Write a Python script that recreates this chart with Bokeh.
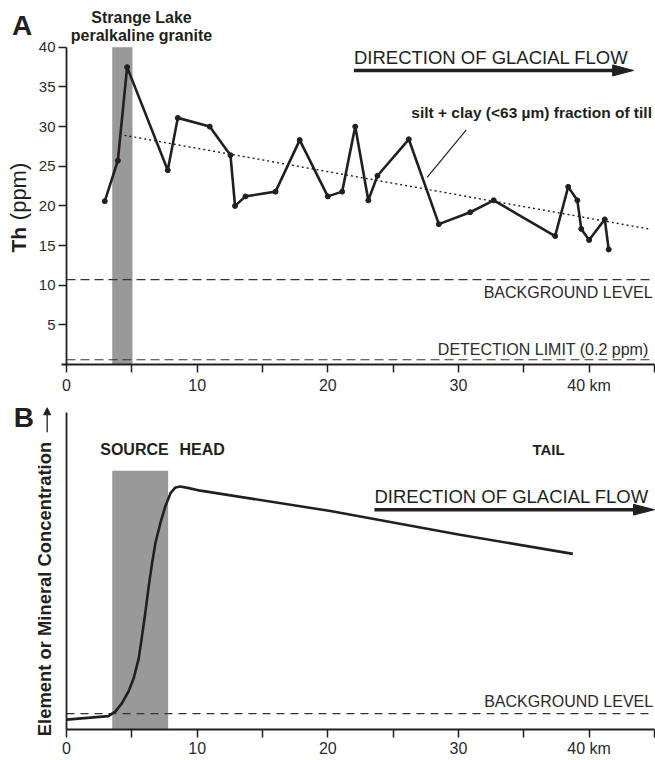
import numpy as np
from bokeh.plotting import figure
from bokeh.models import Label, Range1d, FixedTicker, Arrow, NormalHead, LinearAxis
from bokeh.layouts import column
from bokeh.embed import file_html
from bokeh.resources import INLINE

# ---------------- Panel A: Th in till (silt + clay fraction) ----------------
DIST_KM = [2.93, 3.93, 4.64, 7.75, 8.52, 10.96, 12.55, 12.9, 13.7, 16.0, 17.85,
           20.0, 21.1, 22.1, 23.1, 23.8, 26.2, 28.5, 30.9, 32.7, 37.4, 38.4,
           39.1, 39.4, 40.0, 41.2, 41.5]
TH_PPM = [20.6, 25.7, 37.5, 24.5, 31.1, 30.0, 26.4, 20.0, 21.2, 21.8, 28.3,
          21.2, 21.8, 30.0, 20.7, 23.8, 28.4, 17.7, 19.2, 20.7, 16.2, 22.4,
          20.7, 17.1, 15.7, 18.3, 14.5]
TREND_KM = [4.44, 44.55]
TREND_TH = [28.9, 17.1]
BACKGROUND_PPM = 10.7
DETECTION_LINE_PPM = 0.6
SOURCE_A_KM = [3.5, 5.05]
Y_TICKS_A = [5, 10, 15, 20, 25, 30, 35, 40]
X_MAJOR = [0, 10, 20, 30, 40]
X_MINOR = [5, 15, 25, 35, 45]
X_LABELS = {40: "40 km"}

# ---------------- Panel B: idealised dispersal train ----------------
PROFILE_KM = [0, 3.2, 3.75, 4.25, 4.76, 5.15, 5.53, 5.79, 6.04, 6.3, 6.56, 6.81,
              7.19, 7.57, 7.96, 8.34, 8.72, 9.36, 10.25, 20.2, 30.0, 38.76]
PROFILE_CONC = [3.2, 4.3, 5.8, 8.4, 12.2, 16.3, 22.5, 29.8, 37.1, 45.4, 52.7,
                58.9, 65.2, 70.4, 74.5, 76.3, 76.6, 76.1, 75.3, 68.9, 61.5, 55.4]
BACKGROUND_B = 5.1
SOURCE_B_KM = [3.5, 7.78]
SOURCE_B_TOP = 81.6

INK = "#231f20"
GREY = "#999999"
FONT = "Liberation Sans"

W = 655
HA = 396
HB = 760 - HA
PX_KM = 13.065      # horizontal scale (px per km)
PX_PPM = 7.93       # panel A vertical scale
PX_U = 3.176        # panel B vertical scale
X0 = 66             # pixel of 0 km
YA0 = 364           # pixel of 0 ppm in panel A
YB0 = 729.3 - HA    # pixel of 0 in panel B (local)

XR = (-X0 / PX_KM, (W - X0) / PX_KM)


def make_fig(h, y0, sy):
    p = figure(width=W, height=h,
               x_range=Range1d(*XR),
               y_range=Range1d(-(h - y0) / sy, y0 / sy),
               x_axis_type=None, y_axis_type=None,
               output_backend="svg", toolbar_location=None,
               min_border=0, min_border_left=0, min_border_right=0,
               min_border_top=0, min_border_bottom=0)
    p.outline_line_color = None
    p.grid.visible = False
    return p


def add_axes(p, ybounds, yticks, ylabels, xbounds, standoff):
    xa = LinearAxis(fixed_location=0, bounds=xbounds,
                    ticker=FixedTicker(ticks=X_MAJOR, minor_ticks=X_MINOR))
    xa.major_label_overrides = X_LABELS
    xa.major_label_text_font_size = "16px"
    xa.major_label_standoff = standoff
    xa.minor_tick_line_color = INK
    xa.minor_tick_line_width = 1.5
    xa.minor_tick_out = 8
    xa.minor_tick_in = 0
    ya = LinearAxis(fixed_location=0, bounds=ybounds, ticker=FixedTicker(ticks=yticks))
    ya.major_label_text_font_size = "15px"
    ya.major_label_standoff = 3
    ya.minor_tick_line_color = None
    if not ylabels:
        ya.major_label_text_color = None
    for ax in (xa, ya):
        ax.axis_line_color = INK
        ax.axis_line_width = 1.8
        ax.major_tick_line_color = INK
        ax.major_tick_line_width = 1.5
        ax.major_tick_out = 8
        ax.major_tick_in = 0
        ax.major_label_text_font = FONT
        if ylabels or ax is xa:
            ax.major_label_text_color = "#2b2b2b"
    p.add_layout(xa, "below")
    p.add_layout(ya, "left")


def lab(p, x, y, text, size, bold=False, align="left", angle=0.0, color=INK):
    p.add_layout(Label(x=x, y=y, text=text, x_units="data", y_units="data",
                       text_font=FONT, text_font_size=size,
                       text_font_style="bold" if bold else "normal",
                       text_align=align, text_baseline="middle",
                       angle=angle, text_color=color))


# ================= Figure A =================
pa = make_fig(HA, YA0, PX_PPM)

pa.quad(left=SOURCE_A_KM[0], right=SOURCE_A_KM[1], bottom=0, top=40,
        fill_color=GREY, line_color=None)
pa.segment(x0=0, x1=45, y0=BACKGROUND_PPM, y1=BACKGROUND_PPM,
           line_color="#333333", line_width=1.2, line_dash="9 5")
pa.segment(x0=0, x1=45, y0=DETECTION_LINE_PPM, y1=DETECTION_LINE_PPM,
           line_color="#333333", line_width=1.2, line_dash="9 5")
pa.line(TREND_KM, TREND_TH, line_color=INK, line_width=1.4, line_dash="2 3")
pa.line(DIST_KM, TH_PPM, line_color=INK, line_width=2.6, line_join="round")
pa.scatter(DIST_KM, TH_PPM, size=5, color=INK)
add_axes(pa, (0, 40), Y_TICKS_A, True, (-0.38, 45), 4)

# leader line for the till label
pa.segment(x0=30.6, y0=29.6, x1=27.6, y1=23.6, line_color=INK, line_width=1.2)

# flow arrow A
pa.segment(x0=22.0, y0=37.08, x1=42.2, y1=37.08, line_color=INK, line_width=3.5)
pa.patch([41.8, 43.4, 41.8], [37.08 + 0.7, 37.08, 37.08 - 0.7], color=INK)

lab(pa, -3.39, 42.79, "A", "28px", bold=True, align="center")
lab(pa, 5.74, 43.8, "Strange Lake", "16px", bold=True, align="center")
lab(pa, 5.74, 41.49, "peralkaline granite", "16px", bold=True, align="center")
lab(pa, 22.0, 38.75, "DIRECTION OF GLACIAL FLOW", "18.5px")
lab(pa, 44.81, 31.82, "silt + clay (<63 \u00b5m) fraction of till", "15.5px", bold=True,
    align="right")
lab(pa, 44.86, 9.02, "BACKGROUND LEVEL", "16px", align="right", color="#2b2b2b")
lab(pa, 44.55, 1.95, "DETECTION LIMIT (0.2 ppm)", "16px", align="right", color="#2b2b2b")
lab(pa, -3.71, 14.12, "Th", "21px", bold=True, angle=np.pi / 2)
lab(pa, -3.71, 18.2, "(ppm)", "22px", angle=np.pi / 2)

# ================= Figure B =================
pb = make_fig(HB, YB0, PX_U)

pb.quad(left=SOURCE_B_KM[0], right=SOURCE_B_KM[1], bottom=0, top=SOURCE_B_TOP,
        fill_color=GREY, line_color=None)
pb.segment(x0=0, x1=45, y0=BACKGROUND_B, y1=BACKGROUND_B,
           line_color="#333333", line_width=1.2, line_dash="8 6")
pb.line(PROFILE_KM, PROFILE_CONC, line_color=INK, line_width=2.6, line_join="round")
add_axes(pb, (0, 100), [], False, (0, 45), 2)

# flow arrow B
pb.segment(x0=23.57, y0=69.3, x1=43.8, y1=69.3, line_color=INK, line_width=3.5)
pb.patch([43.4, 45.0, 43.4], [69.3 + 1.7, 69.3, 69.3 - 1.7], color=INK)

lab(pb, -3.27, 98.19, "B", "28px", bold=True, align="center")
lab(pb, 5.2, 88.1, "SOURCE", "16px", bold=True, align="center")
lab(pb, 10.38, 88.1, "HEAD", "16px", bold=True, align="center")
lab(pb, 36.9, 88.1, "TAIL", "15px", bold=True, align="center")
lab(pb, 23.57, 73.49, "DIRECTION OF GLACIAL FLOW", "18.5px")
lab(pb, 44.9, 8.92, "BACKGROUND LEVEL", "16px", align="right", color="#2b2b2b")
lab(pb, -1.67, -2.0, "Element or Mineral Concentration", "18.4px", bold=True,
    angle=np.pi / 2)
pb.add_layout(Arrow(x_start=-1.48, y_start=93.7, x_end=-1.48, y_end=101.4,
                    line_color=INK, line_width=1.3,
                    end=NormalHead(size=7, fill_color=INK, line_color=INK)))

layout = column(pa, pb, spacing=0)
open("out.html", "w").write(file_html(layout, INLINE))
